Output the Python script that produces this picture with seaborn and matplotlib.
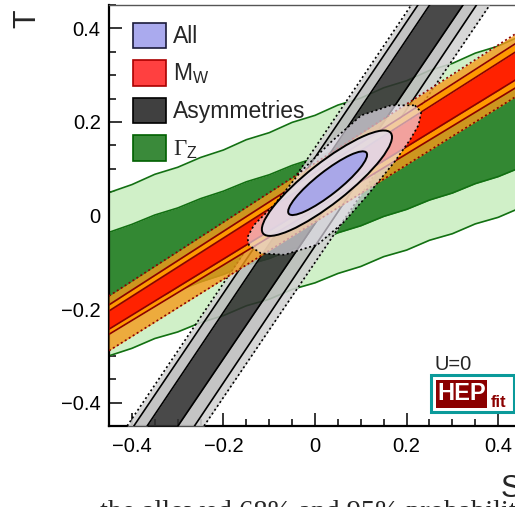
import matplotlib
matplotlib.use("Agg")
import matplotlib.pyplot as plt
import seaborn as sns
from matplotlib.patches import Ellipse, Polygon, Rectangle, Patch

sns.set_style("ticks")
plt.rcParams['font.family'] = ['Liberation Sans', 'DejaVu Sans']
plt.rcParams['mathtext.fontset'] = 'custom'
plt.rcParams['mathtext.rm'] = 'Liberation Serif'
plt.rcParams['mathtext.sf'] = 'Liberation Sans'

# Gamma_Z band edges (T read at each S)
gz_s = [-0.45, -0.40, -0.35, -0.30, -0.25, -0.20, -0.15, -0.10, -0.05, 0.00,
        0.05, 0.10, 0.15, 0.20, 0.25, 0.30, 0.35, 0.40, 0.45]
gz_up95 = [0.049, 0.066, 0.088, 0.103, 0.124, 0.140, 0.162, 0.177, 0.199, 0.214,
           0.236, 0.251, 0.273, 0.288, 0.310, 0.325, 0.347, 0.362, 0.384]
gz_up68 = [-0.036, -0.019, 0.001, 0.016, 0.036, 0.052, 0.072, 0.087, 0.107, 0.123,
           0.143, 0.158, 0.178, 0.194, 0.214, 0.229, 0.249, 0.265, 0.285]
gz_lo68 = [-0.213, -0.196, -0.176, -0.161, -0.142, -0.126, -0.106, -0.092, -0.072, -0.057,
           -0.037, -0.022, -0.002, 0.013, 0.033, 0.048, 0.068, 0.083, 0.103]
gz_lo95 = [-0.300, -0.284, -0.263, -0.249, -0.229, -0.214, -0.193, -0.179, -0.158, -0.144,
           -0.124, -0.109, -0.088, -0.074, -0.053, -0.039, -0.018, -0.004, 0.017]

# M_W band edges (T at S = -0.45 and 0.45)
mw_s = [-0.45, 0.45]
mw_up99 = [-0.172, 0.396]
mw_up95 = [-0.191, 0.375]
mw_up68 = [-0.204, 0.357]
mw_lo68 = [-0.243, 0.297]
mw_lo95 = [-0.254, 0.280]
mw_lo99 = [-0.289, 0.261]

# asymmetries band edges (S at T = -0.45 and 0.45)
asy_t = [-0.45, 0.45]
asy_l99 = [-0.4105, 0.2103]
asy_l95 = [-0.3958, 0.2248]
asy_l68 = [-0.3667, 0.2504]
asy_r68 = [-0.2995, 0.3233]
asy_r95 = [-0.2633, 0.3527]
asy_r99 = [-0.2425, 0.3818]

# combined fit: outer region outline, and 95% / 68% ellipses
all99_s = [0.218, 0.232, 0.226, 0.207, 0.174, 0.115, 0.064, 0.006, -0.067, -0.118,
           -0.144, -0.148, -0.133, -0.089, -0.031, 0.035, 0.101, 0.166]
all99_t = [0.2355, 0.221, 0.193, 0.161, 0.115, 0.044, -0.013, -0.062, -0.084, -0.081,
           -0.064, -0.047, -0.020, 0.023, 0.094, 0.157, 0.214, 0.2355]
all95 = dict(xy=(0.026, 0.069), width=0.352, height=0.088, angle=37.5)
all68 = dict(xy=(0.0275, 0.069), width=0.214, height=0.050, angle=37.5)

fig = plt.figure(figsize=(5.15, 5.07), dpi=100)
ax = fig.add_axes([0.2117, 0.1598, 0.8000, 0.8304])

# Gamma_Z
ax.fill_between(gz_s, gz_lo95, gz_up95, color="#d0f0c8", lw=0, zorder=1)
ax.fill_between(gz_s, gz_lo68, gz_up68, color="#338833", lw=0, zorder=1)
for edge in [gz_up95, gz_up68, gz_lo68, gz_lo95]:
    sns.lineplot(x=gz_s, y=edge, color="#127012", lw=1.2, ax=ax, zorder=2)

# asymmetries
for a, b, c in [(asy_l99, asy_l95, "#d2d2d2"), (asy_r95, asy_r99, "#d2d2d2"),
                (asy_l95, asy_l68, "#bcbcbc"), (asy_r68, asy_r95, "#bcbcbc"),
                (asy_l68, asy_r68, "#303030")]:
    ax.fill_betweenx(asy_t, a, b, color=c, alpha=0.88, lw=0, zorder=3)
for edge, ls in [(asy_l99, (0, (1.2, 1.6))), (asy_r99, (0, (1.2, 1.6))),
                 (asy_l95, "-"), (asy_r95, "-"), (asy_l68, "-"), (asy_r68, "-")]:
    sns.lineplot(x=edge, y=asy_t, orient="y", color="black", lw=1.2, ls=ls, ax=ax, zorder=4)

# M_W
for a, b, c, al in [(mw_up95, mw_up99, "#f59a1a", 0.8), (mw_lo99, mw_lo95, "#f59a1a", 0.8),
                    (mw_up68, mw_up95, "#ff9900", 1.0), (mw_lo95, mw_lo68, "#ff9900", 1.0),
                    (mw_lo68, mw_up68, "#ff2200", 1.0)]:
    ax.fill_between(mw_s, a, b, color=c, alpha=al, lw=0, zorder=5)
for edge, ls in [(mw_up99, (0, (1.2, 1.6))), (mw_lo99, (0, (1.2, 1.6))),
                 (mw_up95, "-"), (mw_lo95, "-"), (mw_up68, "-"), (mw_lo68, "-")]:
    sns.lineplot(x=mw_s, y=edge, color="#8b0000", lw=1.2, ls=ls, ax=ax, zorder=6)

# All
ax.add_patch(Polygon(list(zip(all99_s, all99_t)), closed=True, facecolor="#ece6f2",
                     alpha=0.65, edgecolor="none", zorder=7))
ax.add_patch(Polygon(list(zip(all99_s, all99_t)), closed=True, fill=False,
                     edgecolor="black", lw=1.2, ls=(0, (1.2, 1.6)), zorder=8))
ax.add_patch(Ellipse(**all95, facecolor="#e2dcea", alpha=0.85, edgecolor="none", zorder=8))
ax.add_patch(Ellipse(**all95, fill=False, edgecolor="black", lw=1.4, zorder=9))
ax.add_patch(Ellipse(**all68, facecolor="#a9a7e8", edgecolor="black", lw=1.4, zorder=9))

ax.set_xlim(-0.45, 0.45)
ax.set_ylim(-0.45, 0.45)
ax.set_xticks([-0.4, -0.2, 0, 0.2, 0.4])
ax.set_xticklabels(["\u22120.4", "\u22120.2", "0", "0.2", "0.4"])
ax.set_yticks([-0.4, -0.2, 0, 0.2, 0.4])
ax.set_yticklabels(["\u22120.4", "\u22120.2", "0", "0.2", "0.4"])
ax.set_xticks([x / 100 for x in range(-45, 50, 5)], minor=True)
ax.set_yticks([x / 100 for x in range(-45, 50, 5)], minor=True)
ax.tick_params(which="both", direction="in", width=1.1, colors="black",
               labelsize=14.5, top=False, right=False)
ax.tick_params(which="major", length=9.5)
ax.tick_params(which="minor", length=5)
ax.tick_params(axis="x", pad=8)
ax.tick_params(axis="y", pad=6)
for side in ["left", "bottom"]:
    ax.spines[side].set_linewidth(1.6)
    ax.spines[side].set_color("black")
ax.spines["top"].set_linewidth(1.0)
ax.spines["top"].set_color("#555555")
ax.spines["right"].set_visible(False)

ax.set_ylabel("T", fontsize=22, loc="top", rotation=90)
ax.yaxis.set_label_coords(-0.162, 0.99)
ax.set_xlabel("S", fontsize=22, loc="right")
ax.xaxis.set_label_coords(1.0, -0.115)

handles = [Patch(facecolor="#aaaaee", edgecolor="#1a1a3a", lw=1.2, label="All"),
           Patch(facecolor="#ff4040", edgecolor="#aa0000", lw=1.2, label="M$_\\mathsf{W}$"),
           Patch(facecolor="#404040", edgecolor="black", lw=1.2, label="Asymmetries"),
           Patch(facecolor="#3a8a3a", edgecolor="#006000", lw=1.2, label="$\\mathrm{\\Gamma}_\\mathsf{Z}$")]
ax.legend(handles=handles, loc="upper left", bbox_to_anchor=(0.058, 0.958), frameon=False,
          fontsize=16.5, handlelength=1.45, handleheight=1.35, handletextpad=0.3,
          labelspacing=0.5, borderaxespad=0, borderpad=0)

# U=0 and logo
ax.text(0.789, 0.133, "U=0", transform=ax.transAxes, fontsize=14.5, va="baseline", zorder=10)
ax.add_patch(Rectangle((0.7816, 0.0333), 0.2014, 0.0878, transform=ax.transAxes,
                       facecolor="white", edgecolor="#0a9a9a", lw=2.2, zorder=10))
ax.add_patch(Rectangle((0.7937, 0.0428), 0.1238, 0.0665, transform=ax.transAxes,
                       facecolor="#8b0000", edgecolor="none", zorder=11))
ax.text(0.8556, 0.0428 + 0.0665 / 2, "HEP", transform=ax.transAxes, color="white",
        fontsize=17, fontweight="bold", ha="center", va="center", zorder=12)
ax.text(0.9454, 0.046, "fit", transform=ax.transAxes, color="#8b0000",
        fontsize=12, fontweight="bold", ha="center", va="baseline", zorder=12)

fig.text(100 / 515, 1 - 519 / 507, "the allowed 68% and 95% probability",
         family="Liberation Serif", fontsize=20.5, va="baseline")

fig.savefig("out.png", dpi=100)
